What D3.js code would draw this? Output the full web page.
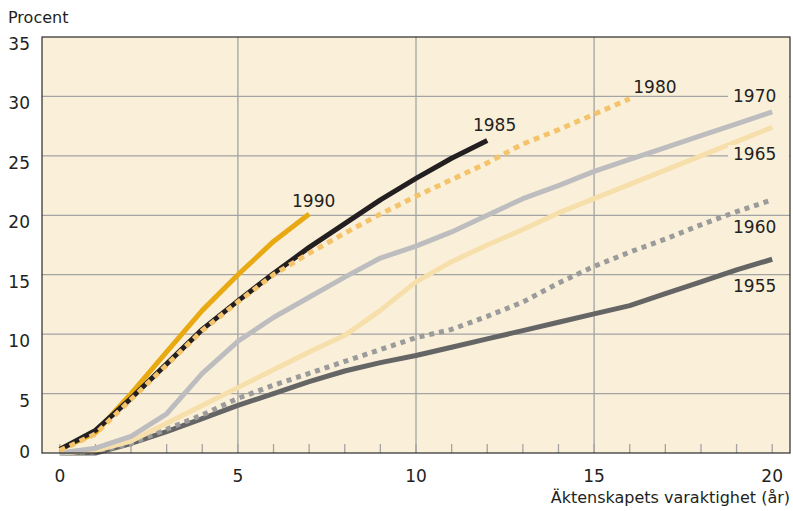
<!DOCTYPE html>
<meta charset="utf-8">
<style>
    body { margin: 0; background: #fff; }
    .container { width: 793px; height: 511px; }
    text { font-family: "DejaVu Sans", sans-serif; fill: #231f20; }
</style>
<body>
<div class="container"></div>
<script src="https://cdn.jsdelivr.net/npm/d3@7"></script>
<script>

// years of marriage
const years = d3.range(0, 21);

// percent divorced, by marriage cohort
const s1955 = [0, 0, 0.8, 1.8, 2.9, 4.0, 5.0, 6.0, 6.9, 7.6, 8.2, 8.9, 9.6, 10.3, 11.0, 11.7, 12.4, 13.4, 14.4, 15.4, 16.3];
const s1960 = [0, 0.1, 0.8, 2.0, 3.2, 4.6, 5.7, 6.7, 7.7, 8.7, 9.7, 10.4, 11.5, 12.7, 14.3, 15.7, 16.9, 18.0, 19.2, 20.3, 21.3];
const s1965 = [0, 0.2, 1.0, 2.5, 4.0, 5.5, 7.0, 8.5, 9.9, 12.0, 14.4, 16.1, 17.5, 18.8, 20.2, 21.4, 22.6, 23.8, 25.0, 26.2, 27.4];
const s1970 = [0, 0.4, 1.4, 3.3, 6.7, 9.4, 11.4, 13.1, 14.8, 16.4, 17.4, 18.6, 20.0, 21.4, 22.5, 23.7, 24.7, 25.7, 26.7, 27.7, 28.7];
const s1980 = [0.2, 1.6, 4.5, 7.4, 10.3, 12.7, 15.0, 16.8, 18.5, 20.1, 21.6, 23.0, 24.4, 26.0, 27.2, 28.5, 29.8];
const s1985 = [0.3, 1.9, 4.6, 7.5, 10.4, 12.8, 15.1, 17.3, 19.3, 21.3, 23.1, 24.8, 26.3];
const s1990 = [0.3, 1.7, 5.0, 8.5, 12.0, 15.0, 17.8, 20.1];

const yTicks = [0, 5, 10, 15, 20, 25, 30, 35];
const xTicks = [0, 5, 10, 15, 20];

const series = [
    { name: '1955', values: s1955, color: '#656565', dash: null },
    { name: '1960', values: s1960, color: '#9b9b9b', dash: '5,5' },
    { name: '1965', values: s1965, color: '#f6dfab', dash: null },
    { name: '1970', values: s1970, color: '#bdbdbf', dash: null },
    { name: '1990', values: s1990, color: '#e8a912', dash: null },
    { name: '1985', values: s1985, color: '#231f20', dash: null },
    { name: '1980', values: s1980, color: '#f4c46c', dash: '6,5' }
];

// label anchors in data units (year, percent at baseline)
const labels = [
    { name: '1990', x: 6.52, y: 20.7, knock: false },
    { name: '1985', x: 11.6, y: 27.1, knock: false },
    { name: '1980', x: 16.1, y: 30.3, knock: false },
    { name: '1970', x: 18.9, y: 29.5, knock: true },
    { name: '1965', x: 18.9, y: 24.65, knock: true },
    { name: '1960', x: 18.9, y: 18.5, knock: false },
    { name: '1955', x: 18.9, y: 13.55, knock: false }
];

const width = 793;
const height = 511;
const margin = { top: 37, right: 3, bottom: 58, left: 42 };
const bg = '#faf0da';

const svg = d3.select('.container')
    .append('svg')
    .attr('width', width)
    .attr('height', height);

const x = d3.scaleLinear().domain([-0.5, 20.5]).range([margin.left, width - margin.right]);
const y = d3.scaleLinear().domain([0, 35]).range([height - margin.bottom, margin.top]);

svg.append('rect')
    .attr('x', x(-0.5)).attr('y', y(35))
    .attr('width', x(20.5) - x(-0.5)).attr('height', y(0) - y(35))
    .style('fill', bg);

// grid
svg.append('g').selectAll('line.h')
    .data(yTicks.slice(1, -1))
    .enter().append('line')
    .attr('x1', x(-0.5)).attr('x2', x(20.5))
    .attr('y1', d => y(d)).attr('y2', d => y(d))
    .style('stroke', '#a3a3a3').style('stroke-width', 1.3);

svg.append('g').selectAll('line.v')
    .data(xTicks.slice(1, -1))
    .enter().append('line')
    .attr('x1', d => x(d)).attr('x2', d => x(d))
    .attr('y1', y(0)).attr('y2', y(35))
    .style('stroke', '#a3a3a3').style('stroke-width', 1.3);

// minor ticks along the bottom
svg.append('g').selectAll('line.tick')
    .data(years)
    .enter().append('line')
    .attr('x1', d => x(d)).attr('x2', d => x(d))
    .attr('y1', y(0)).attr('y2', y(0) - 9)
    .style('stroke', '#a3a3a3').style('stroke-width', 1.3);

// label knockouts behind the right labels
const lab = svg.append('g');
labels.filter(d => d.knock).forEach(d => {
    lab.append('rect')
        .attr('x', x(d.x) - 5).attr('y', y(d.y) - 15)
        .attr('width', x(20.5) - 1 - (x(d.x) - 5)).attr('height', 17)
        .style('fill', bg);
});

// lines
const line = d3.line()
    .x((d, i) => x(years[i]))
    .y(d => y(d));

svg.append('g').selectAll('path.series')
    .data(series)
    .enter().append('path')
    .attr('class', 'series')
    .attr('d', d => line(d.values))
    .style('fill', 'none')
    .style('stroke', d => d.color)
    .style('stroke-width', 5)
    .style('stroke-linejoin', 'round')
    .style('stroke-dasharray', d => d.dash);

lab.raise();
lab.selectAll('text')
    .data(labels)
    .enter().append('text')
    .attr('x', d => x(d.x)).attr('y', d => y(d.y))
    .style('font-size', '17px')
    .text(d => d.name);

// frame
svg.append('rect')
    .attr('x', x(-0.5)).attr('y', y(35))
    .attr('width', x(20.5) - x(-0.5)).attr('height', y(0) - y(35))
    .style('fill', 'none').style('stroke', '#2a2a2a').style('stroke-width', 1.2);

// y tick labels
svg.append('g').selectAll('text')
    .data(yTicks)
    .enter().append('text')
    .attr('x', 30)
    .attr('y', d => y(d) + (d === 0 ? 5 : 13))
    .attr('text-anchor', 'end')
    .style('font-size', '17px')
    .text(d => d);

// x tick labels
svg.append('g').selectAll('text')
    .data(xTicks)
    .enter().append('text')
    .attr('x', d => x(d))
    .attr('y', 482)
    .attr('text-anchor', 'middle')
    .style('font-size', '17px')
    .text(d => d);

svg.append('text')
    .attr('x', 8).attr('y', 23)
    .style('font-size', '16px')
    .text('Procent');

svg.append('text')
    .attr('x', 790).attr('y', 503)
    .attr('text-anchor', 'end')
    .style('font-size', '16px')
    .text('Äktenskapets varaktighet (år)');

</script>
</body>
